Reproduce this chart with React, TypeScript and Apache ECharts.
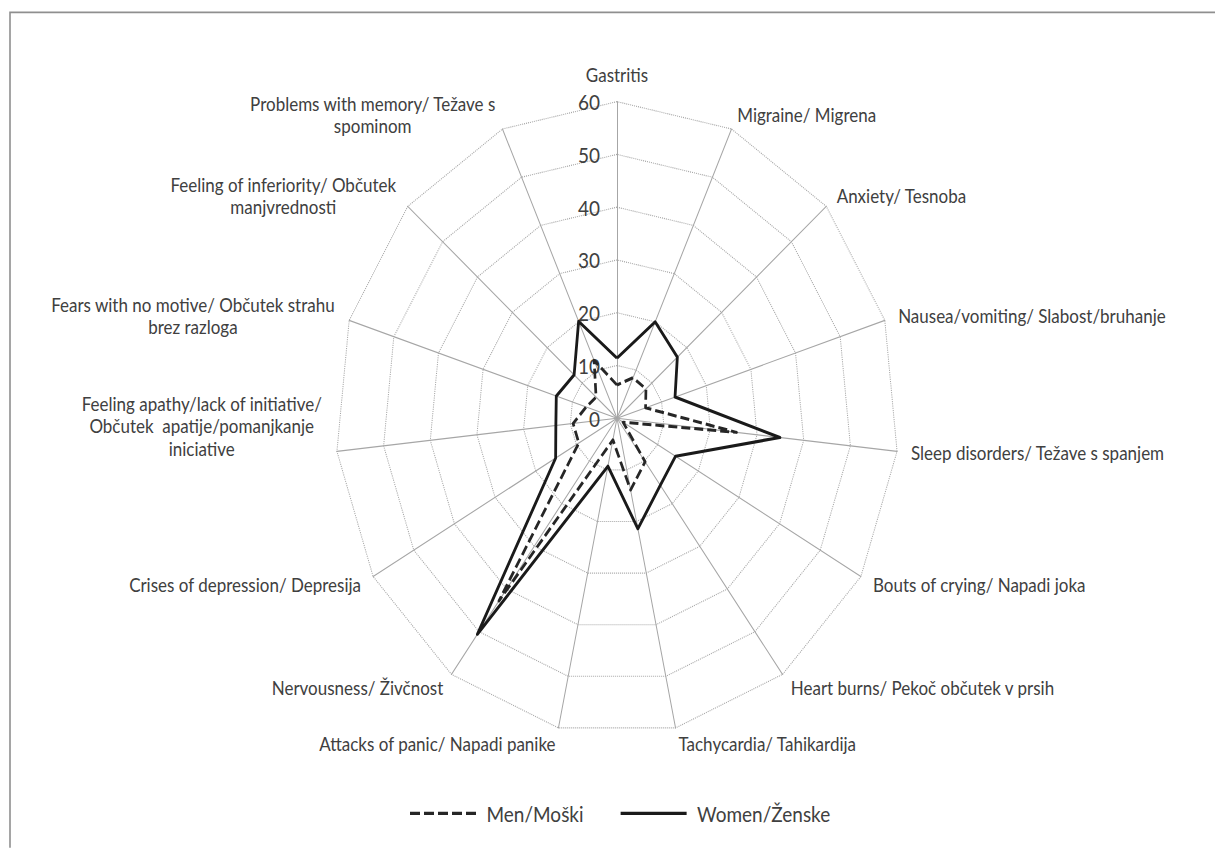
import React, { useEffect, useRef } from "react";
import * as echarts from "echarts";

// Categories in clockwise order, starting at the top
const categories = [
  "Gastritis",
  "Migraine/ Migrena",
  "Anxiety/ Tesnoba",
  "Nausea/vomiting/ Slabost/bruhanje",
  "Sleep disorders/ Težave s spanjem",
  "Bouts of crying/ Napadi joka",
  "Heart burns/ Pekoč občutek v prsih",
  "Tachycardia/ Tahikardija",
  "Attacks of panic/ Napadi panike",
  "Nervousness/ Živčnost",
  "Crises of depression/ Depresija",
  "Feeling apathy/lack of initiative/\nObčutek  apatije/pomanjkanje\niniciative",
  "Fears with no motive/ Občutek strahu\nbrez razloga",
  "Feeling of inferiority/ Občutek\nmanjvrednosti",
  "Problems with memory/ Težave s\nspominom",
];

const menValues = [6.3, 8.4, 8.3, 6.4, 25.6, 1.5, 10.2, 13.9, 4.2, 42.8, 9.4, 9.4, 6.9, 6.0, 12.0];
const womenValues = [11.4, 20.0, 17.3, 13.0, 34.9, 14.4, 15.7, 21.4, 9.3, 50.6, 15.1, 13.1, 13.6, 12.3, 20.1];

const seriesNames = ["Men/Moški", "Women/Ženske"];
const axisMin = 0;
const axisMax = 60;
const axisSplits = 6;

const W = 1215;
const H = 848;
const STRETCH = 1.1243;
const NAME_FONT = "Lato";
const NAME_SIZE = 17;
const LEGEND_SIZE = 19;
// height of an invisible spacer line appended below a label, to lift it
const liftSpacer: Record<number, number> = { 11: 48 };

export default function App() {
  const ref = useRef<HTMLDivElement>(null);

  useEffect(() => {
    const el = ref.current;
    if (!el) return;
    const chart = echarts.init(el, null, { renderer: "svg" });

    const n = categories.length;
    // ECharts radar runs counter-clockwise; reorder to get clockwise layout
    const order = categories.map((_, i) => (i === 0 ? 0 : n - i));

    const canvas = document.createElement("canvas");
    const ctx = canvas.getContext("2d") as CanvasRenderingContext2D;
    ctx.font = `${NAME_SIZE}px ${NAME_FONT}`;
    const rich: Record<string, any> = {};
    const keyOf: Record<string, string> = {};
    const spacerOf: Record<string, string> = {};
    categories.forEach((c, i) => {
      if (c.indexOf("\n") >= 0) {
        const w = Math.max(...c.split("\n").map((l) => ctx.measureText(l).width)) + 2;
        const k = "m" + i;
        keyOf[c] = k;
        rich[k] = {
          width: w,
          align: "center",
          color: "#404040",
          fontFamily: NAME_FONT,
          fontSize: NAME_SIZE,
          lineHeight: 20,
        };
        if (liftSpacer[i]) {
          spacerOf[c] = k + "s";
          rich[k + "s"] = {
            width: w,
            fontSize: 1,
            lineHeight: liftSpacer[i],
            color: "rgba(0,0,0,0)",
          };
        }
      }
    });

    const indicator = order.map((idx, j) => {
      const item: any = { name: categories[idx], min: axisMin, max: axisMax };
      if (j === 0) {
        item.axisLabel = {
          show: true,
          color: "#404040",
          fontFamily: NAME_FONT,
          fontSize: 19,
          margin: 17,
        };
      }
      return item;
    });

    const option: any = {
      animation: false,
      backgroundColor: "#ffffff",
      graphic: [
        {
          type: "rect",
          silent: true,
          shape: { x: 10, y: 11, width: 1400, height: 1000 },
          style: { fill: "none", stroke: "#8f8f8f", lineWidth: 1.6 },
        },
      ],
      legend: {
        left: 410,
        top: 714,
        padding: 0,
        itemWidth: 67,
        itemHeight: 3,
        itemGap: 37,
        textStyle: {
          color: "#404040",
          fontFamily: NAME_FONT,
          fontSize: LEGEND_SIZE,
          padding: [0, 0, 0, 5],
        },
        data: [
          {
            name: seriesNames[0],
            icon: "path://M0,0h10v3h-10z M14,0h10v3h-10z M28,0h10v3h-10z M42,0h10v3h-10z M56,0h10v3h-10z",
          },
          { name: seriesNames[1], icon: "path://M0,0h66v3h-66z" },
        ],
      },
      radar: {
        center: [617, 372],
        radius: 281.6,
        startAngle: 90,
        splitNumber: axisSplits,
        shape: "polygon",
        nameGap: 14,
        axisName: {
          color: "#404040",
          fontFamily: NAME_FONT,
          fontSize: NAME_SIZE,
          lineHeight: 20,
          rich,
          formatter: (name: string) => {
            const k = keyOf[name];
            if (!k) return name;
            let s = name
              .split("\n")
              .map((l) => `{${k}|${l}}`)
              .join("\n");
            if (spacerOf[name]) s += `\n{${spacerOf[name]}| }`;
            return s;
          },
        },
        axisLine: { lineStyle: { color: "#a6a6a6", width: 1 } },
        splitLine: { lineStyle: { color: "#a6a6a6", width: 1, type: "dotted" } },
        splitArea: { show: false },
        axisTick: { show: false },
        axisLabel: { show: false },
        indicator,
      },
      series: [
        {
          type: "radar",
          name: seriesNames[0],
          color: "#262626",
          symbol: "none",
          lineStyle: { color: "#262626", width: 2.7, type: [9, 4] },
          data: [{ name: seriesNames[0], value: order.map((i) => menValues[i]) }],
        },
        {
          type: "radar",
          name: seriesNames[1],
          color: "#1a1a1a",
          symbol: "none",
          lineStyle: { color: "#1a1a1a", width: 2.8, type: "solid" },
          data: [{ name: seriesNames[1], value: order.map((i) => womenValues[i]) }],
        },
      ],
    };

    chart.setOption(option);
    return () => chart.dispose();
  }, []);

  return (
    <div
      style={{
        position: "absolute",
        left: 0,
        top: 0,
        width: W,
        height: H,
        overflow: "hidden",
        background: "#ffffff",
      }}
    >
      <div
        ref={ref}
        style={{
          width: W,
          height: H / STRETCH,
          transform: `scaleY(${STRETCH})`,
          transformOrigin: "0 0",
        }}
      />
    </div>
  );
}
